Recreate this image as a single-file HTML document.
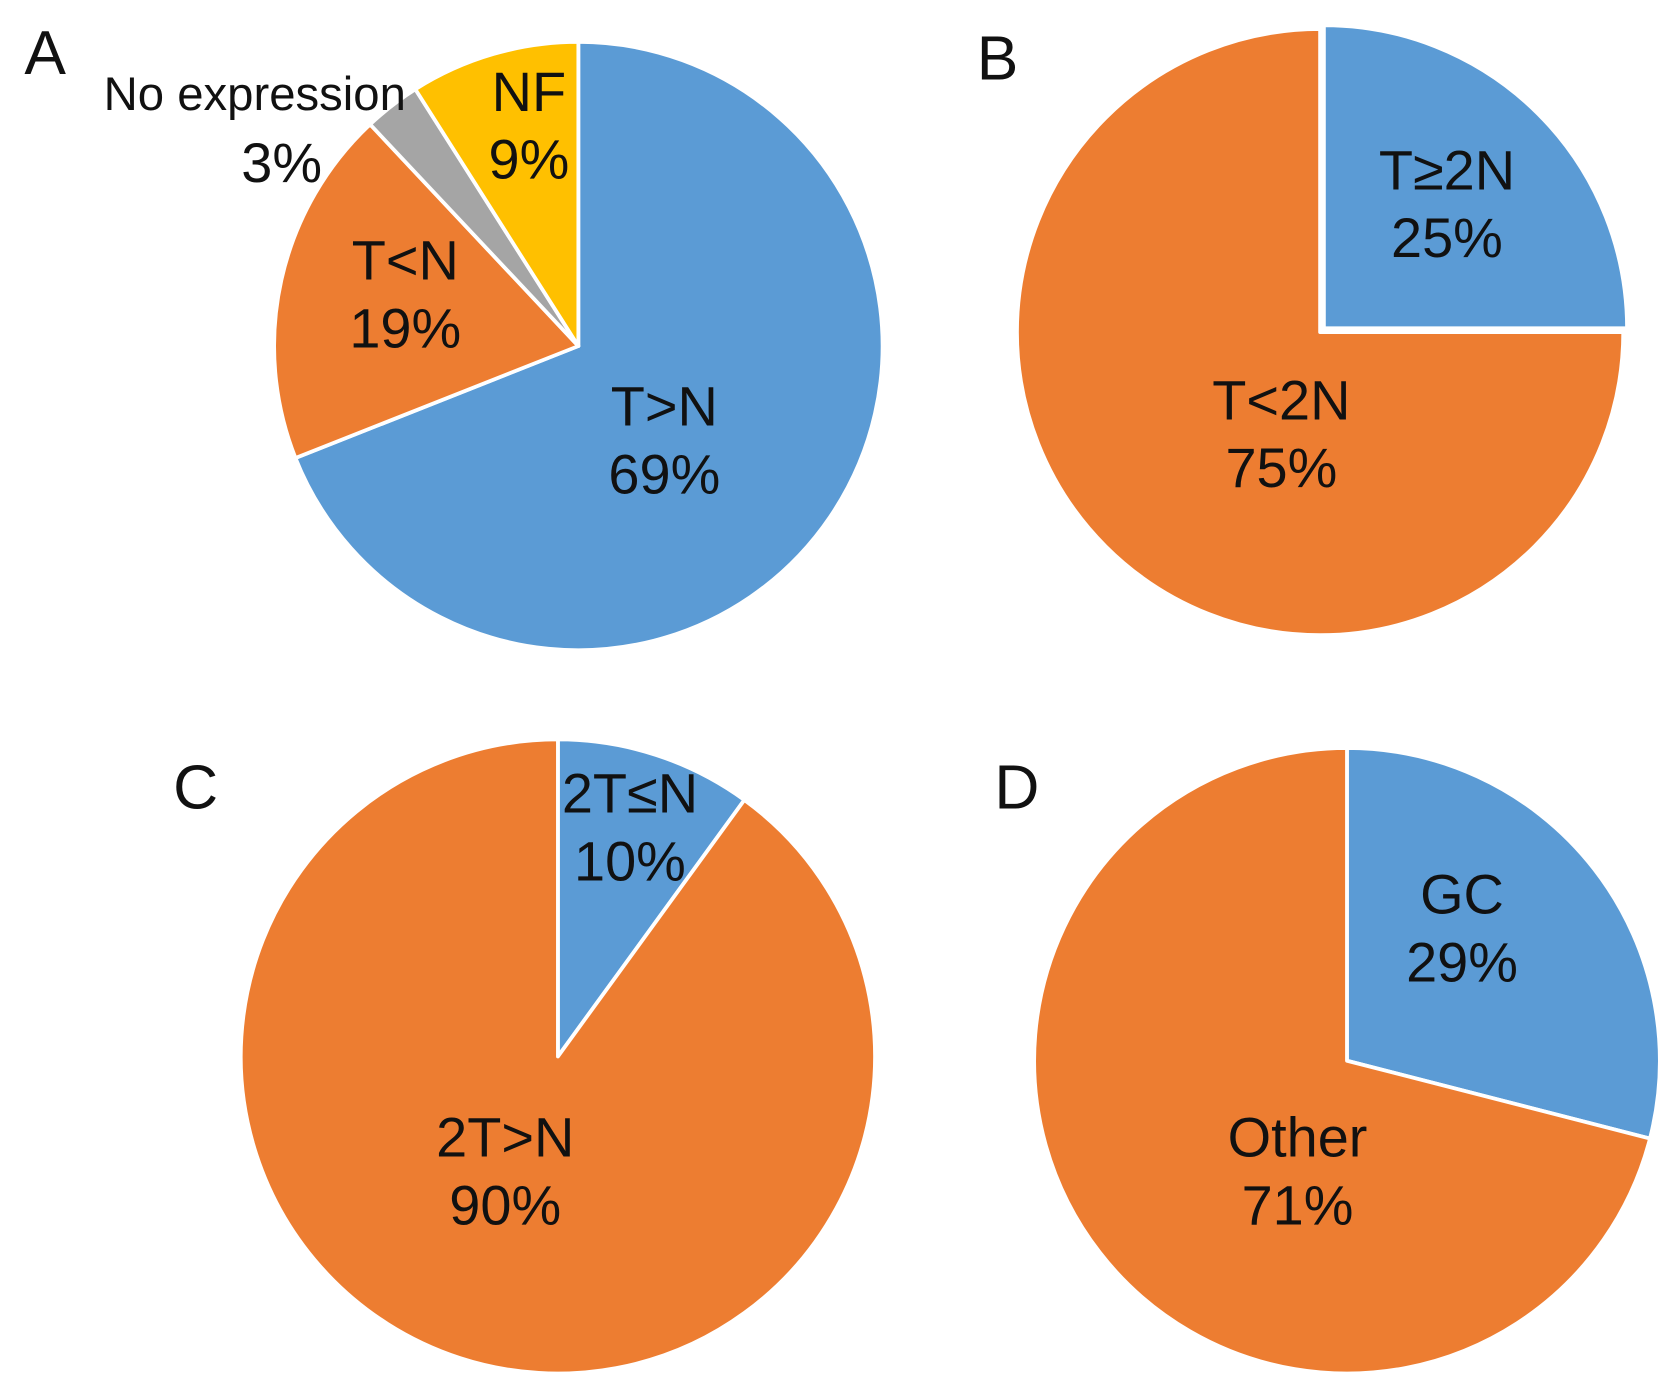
<!DOCTYPE html>
<html><head><meta charset="utf-8"><style>
html,body{margin:0;padding:0;background:#fff;}
svg{display:block;}
text{font-family:"Liberation Sans",sans-serif;fill:#111;}
</style></head><body>
<svg id="chart" width="1677" height="1395" viewBox="0 0 1560 1298" preserveAspectRatio="none" xmlns="http://www.w3.org/2000/svg"></svg>
<script>
const panelA_labels = ["T>N","T<N","No expression","NF"];
const panelA_values = [69,19,3,9];
const panelB_labels = ["T≥2N","T<2N"];
const panelB_values = [25,75];
const panelC_labels = ["2T≤N","2T>N"];
const panelC_values = [10,90];
const panelD_labels = ["GC","Other"];
const panelD_values = [29,71];

const NS="http://www.w3.org/2000/svg";
const svg=document.getElementById('chart');
const colors={"T>N":"#5b9bd5","T<N":"#ed7d31","No expression":"#a5a5a5","NF":"#ffc000","T≥2N":"#5b9bd5","T<2N":"#ed7d31","2T≤N":"#5b9bd5","2T>N":"#ed7d31","GC":"#5b9bd5","Other":"#ed7d31"};

function pt(cx,cy,r,frac){const a=frac*2*Math.PI;return [cx+r*Math.sin(a),cy-r*Math.cos(a)];}
function slug(s){return s.replace(/≥/g,'ge').replace(/≤/g,'le').replace(/>/g,'gt').replace(/</g,'lt').replace(/[^a-zA-Z0-9]+/g,'-').toLowerCase();}

function drawPie(id,labels,values,cx,cy,r,explode,labelPos,sizes){
  const g=document.createElementNS(NS,'g');
  
  
  svg.appendChild(g);
  const total=values.reduce((a,b)=>a+b,0);
  let acc=0;
  values.forEach((v,i)=>{
    const s=acc/total,e=(acc+v)/total;acc+=v;
    const mid=(s+e)/2;
    const off=explode[i]||0;
    const ox=off*Math.sin(mid*2*Math.PI),oy=-off*Math.cos(mid*2*Math.PI);
    const [x1,y1]=pt(cx+ox,cy+oy,r,s),[x2,y2]=pt(cx+ox,cy+oy,r,e);
    const large=(e-s)>0.5?1:0;
    const p=document.createElementNS(NS,'path');
    p.setAttribute('d',`M${cx+ox},${cy+oy} L${x1},${y1} A${r},${r} 0 ${large} 1 ${x2},${y2} Z`);
    p.setAttribute('fill',colors[labels[i]]);
    p.setAttribute('stroke','#fff');
    p.setAttribute('stroke-width','3.5');
    p.setAttribute('stroke-linejoin','round');
    
    
    g.appendChild(p);
  });
  values.forEach((v,i)=>{
    const [lx,ly]=labelPos[i];
    const fs=sizes?sizes[i]:52;
    const t1=document.createElementNS(NS,'text');
    t1.setAttribute('x',lx);t1.setAttribute('y',ly);
    t1.setAttribute('text-anchor','middle');t1.setAttribute('dominant-baseline','central');
    t1.setAttribute('font-size',fs);
    t1.textContent=labels[i];
    
    
    g.appendChild(t1);
    const t2=document.createElementNS(NS,'text');
    t2.setAttribute('x',labelPos[i][2]!==undefined?labelPos[i][2]:lx);t2.setAttribute('y',ly+63);
    t2.setAttribute('text-anchor','middle');t2.setAttribute('dominant-baseline','central');
    t2.setAttribute('font-size',52);
    t2.textContent=v+'%';
    
    
    g.appendChild(t2);
  });
}

drawPie('a',panelA_labels,panelA_values,538,322,283,[0,0,0,0],
  [[618,378],[377,242],[237,88,262],[492,85]],[52,52,44,52]);
drawPie('b',panelB_labels,panelB_values,1228,309,282,[5,0],
  [[1346,158],[1192,372]]);
drawPie('c',panelC_labels,panelC_values,519,983,295,[0,0],
  [[586,738],[470,1058]]);
drawPie('d',panelD_labels,panelD_values,1253,987,291,[0,0],
  [[1360,832],[1207,1058]]);

[['A',42,50],['B',928,55],['C',182,733],['D',946,733]].forEach(([l,x,y])=>{
  const t=document.createElementNS(NS,'text');
  t.setAttribute('x',x);t.setAttribute('y',y);
  t.setAttribute('text-anchor','middle');t.setAttribute('dominant-baseline','central');
  t.setAttribute('font-size',58);
  t.textContent=l;
  
  
  svg.appendChild(t);
});
</script>
</body></html>
